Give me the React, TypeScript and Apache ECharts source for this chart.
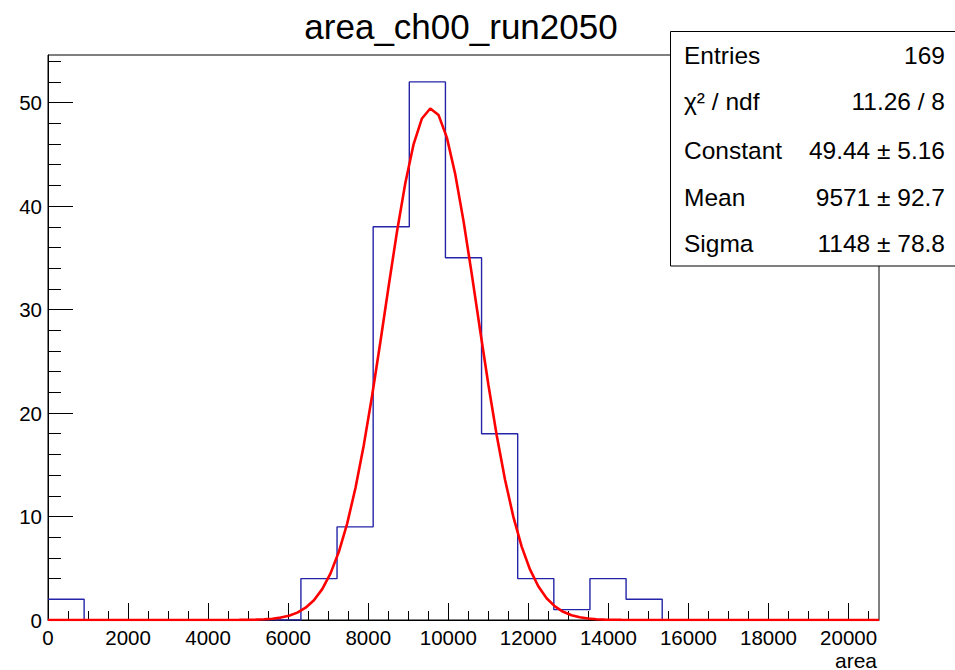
import React, { useEffect, useRef } from "react";
import * as echarts from "echarts";

// ---- data ----
const TITLE = "area_ch00_run2050";
const X_TITLE = "area";
const BIN_WIDTH = 902.6;
const X_MAX = 20760;
const Y_MAX = 54.6;
const BIN_COUNTS = [2, 0, 0, 0, 0, 0, 0, 4, 9, 38, 52, 35, 18, 4, 1, 4, 2, 0, 0, 0, 0, 0, 0];
const X_MAJOR_TICKS = [0, 2000, 4000, 6000, 8000, 10000, 12000, 14000, 16000, 18000, 20000];
const X_MINOR_STEP = 500;
const Y_MAJOR_TICKS = [0, 10, 20, 30, 40, 50];
const Y_MINOR_STEP = 2;
// Gaussian fit parameters shown in the stats box
const FIT_CONSTANT = 49.44;
const FIT_MEAN = 9571;
const FIT_SIGMA = 1148;
const FIT_POINTS = 100;
const STAT_LABELS = ["Entries", "χ² / ndf", "Constant", "Mean", "Sigma"];
const STAT_VALUES = ["169", "11.26 / 8", "49.44 ± 5.16", "9571 ± 92.7", "1148 ± 78.8"];

const FONT = "'Liberation Sans', Arial, Helvetica, sans-serif";

export default function App() {
  const ref = useRef<HTMLDivElement>(null);

  useEffect(() => {
    if (!ref.current) return;
    const chart = echarts.init(ref.current, undefined, { renderer: "svg" });

    const histLine: number[][] = [];
    BIN_COUNTS.forEach((c, i) => {
      histLine.push([i * BIN_WIDTH, c]);
      histLine.push([(i + 1) * BIN_WIDTH, c]);
    });

    const fitLine: number[][] = [];
    for (let i = 0; i <= FIT_POINTS; i++) {
      const x = (i * X_MAX) / FIT_POINTS;
      const z = (x - FIT_MEAN) / FIT_SIGMA;
      fitLine.push([x, FIT_CONSTANT * Math.exp(-0.5 * z * z)]);
    }

    const xMinor: number[] = [];
    for (let v = 0; v <= X_MAX; v += X_MINOR_STEP) xMinor.push(v);
    const yMinor: number[] = [];
    for (let v = 0; v <= Y_MAX; v += Y_MINOR_STEP) yMinor.push(v);

    const rowY = [55, 101, 150, 197, 243];
    const statTexts: any[] = [];
    STAT_LABELS.forEach((l, i) => {
      statTexts.push({
        type: "text",
        z: 101,
        x: 684,
        y: rowY[i],
        style: { text: l, fontSize: 24.5, fontFamily: FONT, fill: "#000", align: "left", verticalAlign: "middle" },
      });
      statTexts.push({
        type: "text",
        z: 101,
        x: 945,
        y: rowY[i],
        style: { text: STAT_VALUES[i], fontSize: 24.5, fontFamily: FONT, fill: "#000", align: "right", verticalAlign: "middle" },
      });
    });

    chart.setOption({
      animation: false,
      backgroundColor: "#fff",
      grid: {
        left: 48,
        top: 55,
        width: 831,
        height: 565,
        show: true,
        borderColor: "#000",
        borderWidth: 1,
        backgroundColor: "transparent",
      },
      xAxis: [
        {
          type: "value",
          position: "bottom",
          min: 0,
          max: X_MAX,
          axisLine: { show: true, lineStyle: { color: "#000", width: 1 } },
          axisTick: { show: true, inside: true, length: 17, customValues: X_MAJOR_TICKS, lineStyle: { color: "#000" } },
          axisLabel: {
            show: true,
            customValues: X_MAJOR_TICKS,
            formatter: (v: number) => String(v),
            fontSize: 20.5,
            fontFamily: FONT,
            color: "#000",
            margin: 7,
          },
          splitLine: { show: false },
        },
        {
          type: "value",
          position: "bottom",
          min: 0,
          max: X_MAX,
          axisLine: { show: false },
          axisTick: { show: true, inside: true, length: 9, customValues: xMinor, lineStyle: { color: "#000" } },
          axisLabel: { show: false },
          splitLine: { show: false },
        },
      ],
      yAxis: [
        {
          type: "value",
          position: "left",
          min: 0,
          max: Y_MAX,
          axisLine: { show: true, lineStyle: { color: "#000", width: 1 } },
          axisTick: { show: true, inside: true, length: 25, customValues: Y_MAJOR_TICKS, lineStyle: { color: "#000" } },
          axisLabel: {
            show: true,
            customValues: Y_MAJOR_TICKS,
            formatter: (v: number) => String(v),
            fontSize: 20.5,
            fontFamily: FONT,
            color: "#000",
            margin: 6,
          },
          splitLine: { show: false },
        },
        {
          type: "value",
          position: "left",
          min: 0,
          max: Y_MAX,
          axisLine: { show: false },
          axisTick: { show: true, inside: true, length: 13, customValues: yMinor, lineStyle: { color: "#000" } },
          axisLabel: { show: false },
          splitLine: { show: false },
        },
      ],
      series: [
        {
          name: "hist",
          type: "line",
          xAxisIndex: 0,
          yAxisIndex: 0,
          data: histLine,
          symbol: "none",
          lineStyle: { color: "#2424a8", width: 1.4 },
          z: 3,
        },
        {
          name: "fit",
          type: "line",
          xAxisIndex: 0,
          yAxisIndex: 0,
          data: fitLine,
          symbol: "none",
          lineStyle: { color: "#ff0000", width: 2.6 },
          z: 4,
        },
      ],
      graphic: [
        {
          type: "text",
          z: 100,
          x: 461,
          y: 26,
          style: { text: TITLE, fontSize: 35, fontFamily: FONT, fill: "#000", align: "center", verticalAlign: "middle" },
        },
        {
          type: "text",
          z: 100,
          x: 877,
          y: 660,
          style: { text: X_TITLE, fontSize: 21, fontFamily: FONT, fill: "#000", align: "right", verticalAlign: "middle" },
        },
        {
          type: "rect",
          z: 100,
          shape: { x: 670.5, y: 31.5, width: 300, height: 234.5 },
          style: { fill: "#fff", stroke: "#000", lineWidth: 1 },
        },
        ...statTexts,
      ],
    });

    return () => chart.dispose();
  }, []);

  return (
    <div
      ref={ref}
      style={{ position: "fixed", left: 0, top: 0, width: 955, height: 670, background: "#fff" }}
    />
  );
}
